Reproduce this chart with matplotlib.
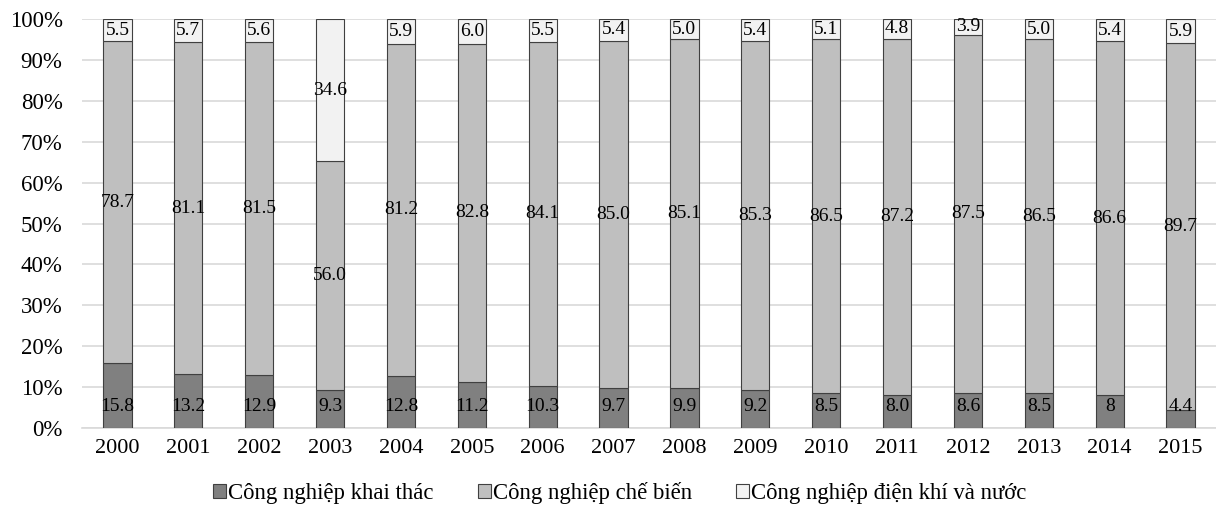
import numpy as np
import matplotlib.pyplot as plt
from matplotlib.ticker import PercentFormatter

years = ['2000', '2001', '2002', '2003', '2004', '2005', '2006', '2007',
         '2008', '2009', '2010', '2011', '2012', '2013', '2014', '2015']
khai_thac = [15.8, 13.2, 12.9, 9.3, 12.8, 11.2, 10.3, 9.7, 9.9, 9.2, 8.5, 8.0, 8.6, 8.5, 8, 4.4]
che_bien = [78.7, 81.1, 81.5, 56.0, 81.2, 82.8, 84.1, 85.0, 85.1, 85.3, 86.5, 87.2, 87.5, 86.5, 86.6, 89.7]
dien_khi = [5.5, 5.7, 5.6, 34.6, 5.9, 6.0, 5.5, 5.4, 5.0, 5.4, 5.1, 4.8, 3.9, 5.0, 5.4, 5.9]
# labels exactly as printed on the chart
lbl_khai_thac = ['15.8', '13.2', '12.9', '9.3', '12.8', '11.2', '10.3', '9.7',
                 '9.9', '9.2', '8.5', '8.0', '8.6', '8.5', '8', '4.4']
series_names = ['Công nghiệp khai thác', 'Công nghiệp chế biến', 'Công nghiệp điện khí và nước']

plt.rcParams['font.family'] = ['Liberation Serif', 'DejaVu Serif']
plt.rcParams['font.size'] = 16

fig = plt.figure(figsize=(12.16, 5.18), dpi=100)
ax = fig.add_axes([82 / 1216, 90 / 518, (1216 - 82) / 1216, (428 - 19) / 518])

x = np.arange(len(years))
w = 0.4
colors = ['#808080', '#bfbfbf', '#f2f2f2']
edge = '#404040'

b1 = ax.bar(x, khai_thac, w, color=colors[0], edgecolor=edge, linewidth=0.8,
            label=series_names[0], zorder=3)
b2 = ax.bar(x, che_bien, w, bottom=khai_thac, color=colors[1], edgecolor=edge,
            linewidth=0.8, label=series_names[1], zorder=3)
bottom3 = np.array(khai_thac) + np.array(che_bien)
b3 = ax.bar(x, dien_khi, w, bottom=bottom3, color=colors[2], edgecolor=edge,
            linewidth=0.8, label=series_names[2], zorder=3)

# bottom series labels sit just above the base of each bar
for xi, lab in zip(x, lbl_khai_thac):
    ax.annotate(lab, (xi, 0), xytext=(0, 15.5), textcoords='offset points',
                ha='center', va='center', fontsize=14, zorder=4)
ax.bar_label(b2, labels=['%.1f' % v for v in che_bien], label_type='center', fontsize=14, zorder=4)
ax.bar_label(b3, labels=['%.1f' % v for v in dien_khi], label_type='center', fontsize=14, zorder=4)

ax.set_xlim(-0.5, len(years) - 0.5)
ax.set_ylim(0, 100)
ax.set_yticks(np.arange(0, 101, 10))
ax.yaxis.set_major_formatter(PercentFormatter(decimals=0))
ax.set_xticks(x)
ax.set_xticklabels(years)
ax.tick_params(axis='y', labelsize=16.5)
ax.grid(axis='y', color='#d9d9d9', linewidth=1.2, zorder=0)
ax.tick_params(length=0, pad=8)
ax.tick_params(axis='y', pad=14)
for s in ['top', 'right', 'left']:
    ax.spines[s].set_visible(False)
ax.spines['bottom'].set_color('#d9d9d9')
ax.spines['bottom'].set_linewidth(1.2)

ax.legend(loc='center', bbox_to_anchor=(620 / 1216, 1 - 493 / 518),
          bbox_transform=fig.transFigure, ncol=3, frameon=False,
          handlelength=0.55, handleheight=0.55, handletextpad=0.1,
          columnspacing=1.95, fontsize=16.4)

fig.savefig('out.png', dpi=100)
